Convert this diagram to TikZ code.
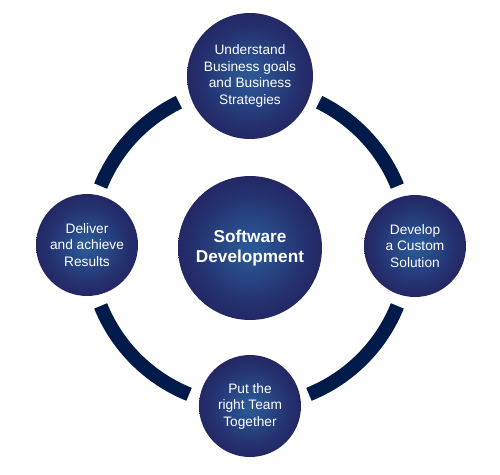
\documentclass[tikz,border=0pt]{standalone}
\usepackage{fontspec}
\setmainfont{Liberation Sans}
\definecolor{ringblue}{HTML}{001A4A}
\definecolor{ballin}{HTML}{2A5694}
\definecolor{ballmid}{HTML}{252F6E}
\definecolor{ballout}{HTML}{1F154C}
\pgfdeclareradialshading{ball}{\pgfpoint{0bp}{0bp}}{color(0bp)=(ballin); color(3bp)=(ballin); color(20bp)=(ballmid); color(38bp)=(ballout); color(50bp)=(ballout)}
\tikzset{
  ball/.style={circle, inner sep=0pt, shading=ball, text=white, align=center,
    font=\fontsize{7.8}{9.4}\selectfont},
  smallball/.style={ball, minimum size=2.04cm},
  ringarc/.style={draw=ringblue, line width=0.28cm, line cap=butt}
}
\begin{document}
\begin{tikzpicture}[x=0.02cm,y=0.02cm]
\useasboundingbox (0,0) rectangle (500,474);
\coordinate (ring) at (249,228);
\draw[ringarc] ([shift={(22:3.2cm)}]ring) arc[start angle=22, end angle=64, radius=3.2cm];
\draw[ringarc] ([shift={(116:3.2cm)}]ring) arc[start angle=116, end angle=158, radius=3.2cm];
\draw[ringarc] ([shift={(202:3.2cm)}]ring) arc[start angle=202, end angle=248, radius=3.2cm];
\draw[ringarc] ([shift={(292:3.2cm)}]ring) arc[start angle=292, end angle=338, radius=3.2cm];
\node[ball, minimum size=2.52cm] (top) at (250,398) {Understand\\Business goals\\and Business\\Strategies};
\node[ball, minimum size=2.88cm, font=\bfseries\fontsize{9.8}{11.3}\selectfont] (center) at (250,226) {Software\\Development};
\node[smallball] (left) at (87,229) {Deliver\\and achieve\\Results};
\node[smallball] (right) at (415,228) {Develop\\a Custom\\Solution};
\node[smallball] (bottom) at (250,68) {Put the\\right Team\\Together};
\end{tikzpicture}
\end{document}
